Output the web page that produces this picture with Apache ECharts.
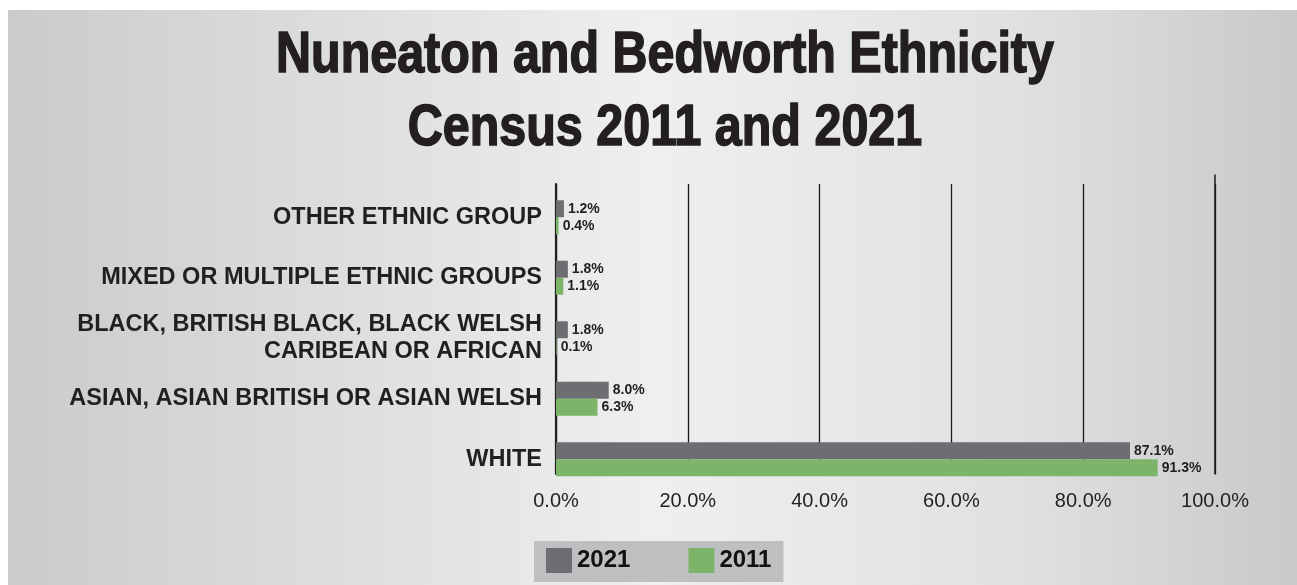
<!DOCTYPE html>
<html>
<head>
<meta charset="utf-8">
<title>Nuneaton and Bedworth Ethnicity</title>
<script src="https://cdn.jsdelivr.net/npm/echarts@6/dist/echarts.min.js"></script>
<style>
  html, body { margin: 0; padding: 0; background: #ffffff; }
  #chart { width: 1297px; height: 585px; }
</style>
</head>
<body>
<div id="chart"></div>
<script>
// Ethnic groups, listed top to bottom
const categories = [
  'OTHER ETHNIC GROUP',
  'MIXED OR MULTIPLE ETHNIC GROUPS',
  'BLACK, BRITISH BLACK, BLACK WELSH\nCARIBEAN OR AFRICAN',
  'ASIAN, ASIAN BRITISH OR ASIAN WELSH',
  'WHITE'
];
// Share of population (%)
const census2021 = [1.2, 1.8, 1.8, 8.0, 87.1];
const census2011 = [0.4, 1.1, 0.1, 6.3, 91.3];
const seriesNames = ['2021', '2011'];
const titleLines = ['Nuneaton and Bedworth Ethnicity', 'Census 2011 and 2021'];
const xTicks = { min: 0, max: 100, interval: 20 };

const TEXT = '#231f20';
const GREY = '#6d6e71';
const GREEN = '#7cb46a';
const pct = v => Number(v).toFixed(1) + '%';

const chart = echarts.init(document.getElementById('chart'));

const barLabel = {
  show: true,
  position: 'right',
  distance: 4,
  fontFamily: 'Liberation Sans',
  fontWeight: 'bold',
  fontSize: 14,
  color: TEXT,
  formatter: p => pct(p.value)
};

// heavy, condensed headline: bold sans squeezed horizontally
const titleText = (text, y) => ({
  type: 'text',
  x: 665,
  y: y,
  scaleX: 0.85,
  silent: true,
  z: 10,
  style: {
    text: text,
    font: 'bold 57px "Liberation Sans", Arial, sans-serif',
    fill: TEXT,
    stroke: TEXT,
    lineWidth: 1.6,
    textAlign: 'center',
    textVerticalAlign: 'middle'
  }
});

chart.setOption({
  animation: false,
  backgroundColor: '#ffffff',
  graphic: [
    {
      type: 'rect',
      z: -100,
      silent: true,
      shape: { x: 8, y: 10, width: 1289, height: 575 },
      style: {
        fill: new echarts.graphic.LinearGradient(0, 0, 1, 0, [
          { offset: 0, color: '#c9cbcc' },
          { offset: 0.22, color: '#d9dbdc' },
          { offset: 0.5, color: '#eeefef' },
          { offset: 0.78, color: '#e0e1e2' },
          { offset: 1, color: '#c7c9ca' }
        ])
      }
    },
    titleText(titleLines[0], 56),
    titleText(titleLines[1], 129)
  ],
  legend: {
    data: seriesNames,
    left: 534,
    top: 541,
    orient: 'horizontal',
    backgroundColor: '#bebfc1',
    padding: [7, 12, 9, 12],
    itemWidth: 26,
    itemHeight: 25,
    itemGap: 58,
    icon: 'rect',
    textStyle: {
      fontFamily: 'Liberation Sans',
      fontWeight: 'bold',
      fontSize: 24,
      color: '#111111'
    }
  },
  grid: [
    // gridlines, zero line and percentage scale
    { left: 556, width: 659, top: 184, height: 290, containLabel: false },
    // bars and category labels
    { left: 556, width: 659, top: 187, height: 302.5, containLabel: false },
    // taller right-hand 100% line
    { left: 556, width: 659, top: 175, height: 299, containLabel: false }
  ],
  xAxis: [
    {
      gridIndex: 0,
      type: 'value',
      min: xTicks.min, max: xTicks.max, interval: xTicks.interval,
      axisLine: { show: false },
      axisTick: { show: false },
      axisLabel: {
        margin: 17,
        fontFamily: 'Liberation Sans',
        fontSize: 20,
        color: TEXT,
        formatter: v => pct(v)
      },
      splitLine: { show: true, lineStyle: { color: '#1a1a1a', width: 1.3 } }
    },
    {
      gridIndex: 1,
      type: 'value',
      min: xTicks.min, max: xTicks.max,
      show: false
    },
    {
      gridIndex: 2,
      type: 'value',
      min: xTicks.min, max: xTicks.max,
      show: false
    }
  ],
  yAxis: [
    {
      gridIndex: 0,
      type: 'value',
      min: 0, max: 1,
      axisLine: { show: true, onZero: false, lineStyle: { color: TEXT, width: 2.2 } },
      axisTick: { show: false },
      axisLabel: { show: false },
      splitLine: { show: false }
    },
    {
      gridIndex: 1,
      type: 'category',
      data: categories,
      inverse: true,
      axisLine: { show: false },
      axisTick: { show: false },
      splitLine: { show: false },
      axisLabel: {
        margin: 14,
        fontFamily: 'Liberation Sans',
        fontWeight: 'bold',
        fontSize: 23.5,
        lineHeight: 27,
        color: TEXT,
        align: 'right'
      }
    },
    {
      gridIndex: 2,
      type: 'value',
      position: 'right',
      min: 0, max: 1,
      axisLine: { show: true, onZero: false, lineStyle: { color: '#1a1a1a', width: 1.5 } },
      axisTick: { show: false },
      axisLabel: { show: false },
      splitLine: { show: false }
    }
  ],
  series: [
    {
      name: seriesNames[0],
      type: 'bar',
      xAxisIndex: 1,
      yAxisIndex: 1,
      data: census2021,
      barWidth: 17,
      barGap: '0%',
      itemStyle: { color: GREY },
      label: barLabel
    },
    {
      name: seriesNames[1],
      type: 'bar',
      xAxisIndex: 1,
      yAxisIndex: 1,
      data: census2011,
      barWidth: 17,
      barGap: '0%',
      itemStyle: { color: GREEN },
      label: barLabel
    }
  ]
});
</script>
</body>
</html>
